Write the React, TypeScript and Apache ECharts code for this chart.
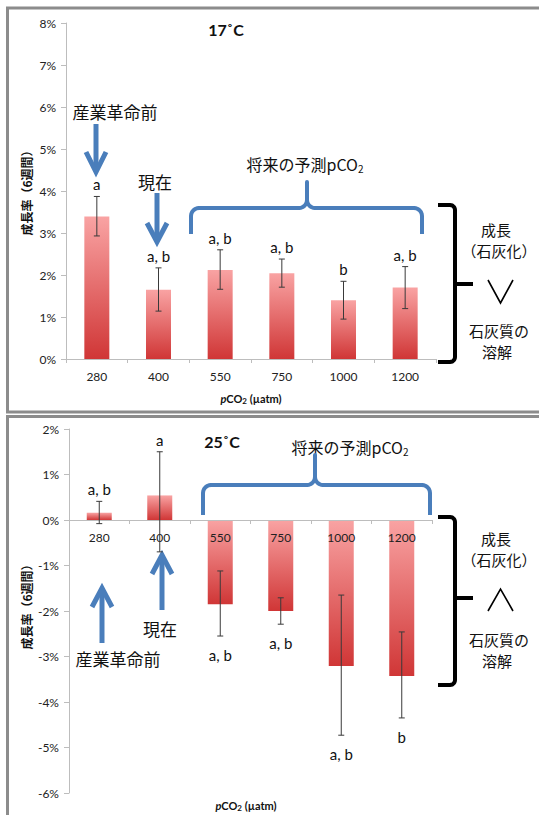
import React, { useEffect, useRef } from 'react';
import * as echarts from 'echarts';

// ---- data ----
const categories = ['280', '400', '550', '750', '1000', '1200'];

const growth17 = [3.39, 1.65, 2.12, 2.04, 1.4, 1.7];
const errHigh17 = [3.87, 2.17, 2.6, 2.38, 1.85, 2.2];
const errLow17 = [2.93, 1.14, 1.66, 1.71, 0.95, 1.2];
const letters17 = ['a', 'a, b', 'a, b', 'a, b', 'b', 'a, b'];

const growth25 = [0.16, 0.54, -1.85, -2.0, -3.21, -3.43];
const errHigh25 = [0.41, 1.5, -1.12, -1.71, -1.65, -2.46];
const errLow25 = [-0.08, -0.7, -2.55, -2.29, -4.73, -4.35];
const letters25 = ['a, b', 'a', 'a, b', 'a, b', 'a, b', 'b'];

const yRange17 = { min: 0, max: 8, interval: 1 };
const yRange25 = { min: -6, max: 2, interval: 1 };

const yAxisTitle = '成長率（6週間）';
const xAxisTitleParts = ['p', 'CO', '2', ' (µatm)'];
const tempLabels = ['17˚C', '25˚C'];

const LATIN = 'Lato, "Open Sans", sans-serif';
const CJK = '"Noto Sans CJK JP", sans-serif';
const BLUE = '#4a7ebb';

// grid geometry
const GRID2_TOP = 429;
const GRID2_H = 364;
// offset lifting the bottom x axis to the 0% line
const zeroOffset2 = -(GRID2_H * (0 - yRange25.min)) / (yRange25.max - yRange25.min);

function barGradient() {
  return new echarts.graphic.LinearGradient(0, 0, 0, 1, [
    { offset: 0, color: '#f9a3a3' },
    { offset: 1, color: '#d03636' },
  ]);
}

function makeErrRender(letters: string[]) {
  return (params: any, api: any) => {
    const i = api.value(0);
    const hi = api.coord([i, api.value(1)]);
    const lo = api.coord([i, api.value(2)]);
    const v = api.value(3);
    const x = hi[0];
    const cap = 3;
    const lineStyle = { stroke: '#3a3a3a', lineWidth: 1 };
    const ty = v >= 0 ? hi[1] - 12 : lo[1] + 19;
    return {
      type: 'group',
      children: [
        { type: 'line', shape: { x1: x, y1: hi[1], x2: x, y2: lo[1] }, style: lineStyle },
        { type: 'line', shape: { x1: x - cap, y1: hi[1], x2: x + cap, y2: hi[1] }, style: lineStyle },
        { type: 'line', shape: { x1: x - cap, y1: lo[1], x2: x + cap, y2: lo[1] }, style: lineStyle },
        {
          type: 'text',
          x: x,
          y: ty,
          style: {
            text: letters[params.dataIndex],
            fill: '#111',
            fontSize: 15,
            fontFamily: LATIN,
            align: 'center',
            verticalAlign: 'middle',
            textAlign: 'center',
            textVerticalAlign: 'middle',
          },
        },
      ],
    };
  };
}

function arc(cx: number, cy: number, r: number, a0: number, a1: number, n = 6) {
  const pts: number[][] = [];
  for (let k = 0; k <= n; k++) {
    const a = a0 + ((a1 - a0) * k) / n;
    pts.push([cx + r * Math.cos(a), cy + r * Math.sin(a)]);
  }
  return pts;
}

function bracePoints(x1: number, x2: number, yTop: number, yEnd: number, px: number, py: number, r: number) {
  const P = Math.PI;
  return [
    [x1, yEnd],
    ...arc(x1 + r, yTop + r, r, P, 1.5 * P),
    ...arc(px - r, yTop - r, r, 0.5 * P, 0),
    [px, py],
    ...arc(px + r, yTop - r, r, P, 0.5 * P),
    ...arc(x2 - r, yTop + r, r, 1.5 * P, 2 * P),
    [x2, yEnd],
  ];
}

function blackBracket(xa: number, xv: number, yTop: number, yBot: number, yNub: number, xNub: number) {
  const P = Math.PI;
  const r = 5;
  const st = { stroke: '#000', lineWidth: 4, fill: 'none', lineJoin: 'round' };
  return [
    {
      type: 'polyline',
      shape: {
        points: [
          [xa, yTop],
          ...arc(xv - r, yTop + r, r, 1.5 * P, 2 * P),
          ...arc(xv - r, yBot - r, r, 0, 0.5 * P),
          [xa, yBot],
        ],
      },
      style: st,
    },
    { type: 'line', shape: { x1: xv, y1: yNub, x2: xNub, y2: yNub }, style: { stroke: '#000', lineWidth: 4 } },
  ];
}

function arrow(x: number, yTail: number, yTip: number, headLen: number, headW: number) {
  const dir = yTip > yTail ? 1 : -1;
  const st = { stroke: BLUE, lineWidth: 5, fill: 'none', lineCap: 'butt', lineJoin: 'miter' };
  return [
    { type: 'line', shape: { x1: x, y1: yTail, x2: x, y2: yTip - dir * 3 }, style: { stroke: BLUE, lineWidth: 5 } },
    {
      type: 'polyline',
      shape: { points: [[x - headW, yTip - dir * headLen], [x, yTip], [x + headW, yTip - dir * headLen]] },
      style: st,
    },
  ];
}

function txt(text: string, x: number, y: number, size: number, family = CJK, weight: any = 'normal') {
  return {
    type: 'text',
    x,
    y,
    style: {
      text,
      fill: '#111',
      fontSize: size,
      fontFamily: family,
      fontWeight: weight,
      align: 'center',
      verticalAlign: 'middle',
    },
  };
}

function titleRich(x: number, y: number) {
  return {
    type: 'text',
    x,
    y,
    style: {
      text: `{i|${xAxisTitleParts[0]}}{b|${xAxisTitleParts[1]}}{s|${xAxisTitleParts[2]}}{b|${xAxisTitleParts[3]}}`,
      align: 'center',
      verticalAlign: 'middle',
      rich: {
        i: { fontSize: 11, fontWeight: 'bold', fontStyle: 'italic', fontFamily: LATIN, fill: '#111' },
        b: { fontSize: 11, fontWeight: 'bold', fontFamily: LATIN, fill: '#111' },
        s: { fontSize: 8, fontWeight: 'bold', fontFamily: LATIN, fill: '#111', padding: [5, 0, 0, 0] },
      },
    },
  };
}

function futureRich(x: number, y: number) {
  return {
    type: 'text',
    x,
    y,
    style: {
      text: '{a|将来の予測pCO}{s|2}',
      align: 'center',
      verticalAlign: 'middle',
      rich: {
        a: { fontSize: 16, fontFamily: CJK, fill: '#111' },
        s: { fontSize: 10, fontFamily: CJK, fill: '#111', padding: [8, 0, 0, 0] },
      },
    },
  };
}

function yTitle(x: number, y: number) {
  return {
    type: 'text',
    x,
    y,
    rotation: Math.PI / 2,
    style: {
      text: yAxisTitle,
      fill: '#111',
      fontSize: 12,
      fontWeight: 'bold',
      fontFamily: CJK,
      align: 'center',
      verticalAlign: 'middle',
    },
  };
}

function rightLabels(yTop: number, up: boolean) {
  const els: any[] = [
    txt('成長', 496, yTop, 15),
    txt('（石灰化）', 499, yTop + 21, 15),
  ];
  const vy = yTop + 51;
  els.push({
    type: 'polyline',
    shape: {
      points: up
        ? [[488, vy + 22], [500.5, vy], [513, vy + 22]]
        : [[488, vy], [500.5, vy + 23], [513, vy]],
    },
    style: { stroke: '#000', lineWidth: 1.6, fill: 'none' },
  });
  els.push(txt('石灰質の', 499, yTop + 101, 15));
  els.push(txt('溶解', 497, yTop + 122, 15));
  return els;
}

function axisCommon() {
  return {
    axisLine: { show: true, onZero: false, lineStyle: { color: '#bdbdbd', width: 1 } },
    axisTick: { show: true, length: 4, lineStyle: { color: '#bdbdbd' } },
    splitLine: { show: false },
  };
}

export default function App() {
  const ref = useRef<HTMLDivElement>(null);
  useEffect(() => {
    const chart = echarts.init(ref.current!, null, { renderer: 'svg' });
    const xLabel = { color: '#222', fontSize: 12, fontFamily: LATIN, margin: 11 };
    const yLabel = { color: '#222', fontSize: 12, fontFamily: LATIN, margin: 10, formatter: '{value}%' };

    const graphic: any[] = [
      // panel borders
      { type: 'rect', shape: { x: 7.5, y: 8, width: 560, height: 404 }, style: { fill: 'none', stroke: '#8c8c8c', lineWidth: 3 }, z: 100 },
      { type: 'rect', shape: { x: 7.5, y: 416.5, width: 560, height: 420 }, style: { fill: 'none', stroke: '#8c8c8c', lineWidth: 3 }, z: 100 },
      // top chart
      txt(tempLabels[0], 226, 29, 16, LATIN, 'bold'),
      yTitle(26, 190),
      titleRich(251, 398),
      txt('産業革命前', 115, 111, 17),
      ...arrow(96, 124, 172, 20, 10),
      txt('現在', 155, 181, 17),
      ...arrow(157, 193, 242, 19, 10),
      futureRich(305, 164),
      {
        type: 'polyline',
        shape: { points: bracePoints(191, 422, 208, 234, 307, 182, 8) },
        style: { stroke: BLUE, lineWidth: 4, fill: 'none', lineJoin: 'round' },
      },
      ...blackBracket(438, 455, 205, 362, 284, 473),
      ...rightLabels(229, false),
      // bottom chart
      txt(tempLabels[1], 222, 441, 16, LATIN, 'bold'),
      yTitle(26, 604),
      titleRich(246, 805),
      futureRich(350, 447),
      {
        type: 'polyline',
        shape: { points: bracePoints(203, 430, 485, 515, 315, 455, 8) },
        style: { stroke: BLUE, lineWidth: 4, fill: 'none', lineJoin: 'round' },
      },
      ...blackBracket(438, 455, 517, 685, 598, 473),
      ...rightLabels(538, true),
      ...arrow(102, 643, 588, 19, 10),
      txt('産業革命前', 118, 658, 17),
      ...arrow(162, 610, 555, 19, 10),
      txt('現在', 160, 628, 17),
    ];

    const option: any = {
      animation: false,
      backgroundColor: '#fff',
      grid: [
        { left: 66, top: 23, width: 370, height: 336 },
        { left: 69, top: GRID2_TOP, width: 363, height: GRID2_H },
      ],
      xAxis: [
        { type: 'category', gridIndex: 0, data: categories, axisLabel: xLabel, ...axisCommon() },
        { type: 'category', gridIndex: 1, data: categories, axisLabel: xLabel, offset: zeroOffset2, z: 10, ...axisCommon() },
      ],
      yAxis: [
        { type: 'value', gridIndex: 0, ...yRange17, axisLabel: yLabel, ...axisCommon(), axisTick: { show: true, length: 5, lineStyle: { color: '#bdbdbd' } } },
        { type: 'value', gridIndex: 1, ...yRange25, axisLabel: yLabel, ...axisCommon(), axisTick: { show: true, length: 5, lineStyle: { color: '#bdbdbd' } } },
      ],
      series: [
        {
          type: 'bar',
          xAxisIndex: 0,
          yAxisIndex: 0,
          data: growth17,
          barWidth: 25,
          itemStyle: { color: barGradient() },
        },
        {
          type: 'bar',
          xAxisIndex: 1,
          yAxisIndex: 1,
          data: growth25,
          barWidth: 25,
          itemStyle: { color: barGradient() },
        },
        {
          type: 'custom',
          xAxisIndex: 0,
          yAxisIndex: 0,
          z: 12,
          data: categories.map((_, i) => [i, errHigh17[i], errLow17[i], growth17[i]]),
          encode: { x: 0, y: 1 },
          renderItem: makeErrRender(letters17),
        },
        {
          type: 'custom',
          xAxisIndex: 1,
          yAxisIndex: 1,
          z: 12,
          data: categories.map((_, i) => [i, errHigh25[i], errLow25[i], growth25[i]]),
          encode: { x: 0, y: 1 },
          renderItem: makeErrRender(letters25),
        },
      ],
      graphic,
    };
    chart.setOption(option);
    return () => chart.dispose();
  }, []);
  return <div ref={ref} style={{ position: 'absolute', left: 0, top: 0, width: 539, height: 815 }} />;
}
